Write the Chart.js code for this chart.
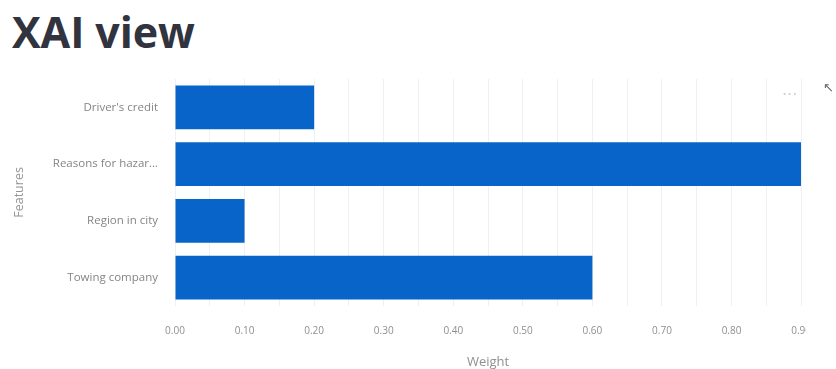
<!DOCTYPE html>
<html>
<head>
<meta charset="utf-8">
<script src="https://cdn.jsdelivr.net/npm/chart.js@4.4.1/dist/chart.umd.min.js"></script>
<style>
  body { margin: 0; background: #fff; width: 836px; height: 369px; overflow: hidden; position: relative; }
  h1 {
    position: absolute; left: 12px; top: 5px; margin: 0;
    font-family: "Open Sans", sans-serif; font-weight: 700; font-size: 43px;
    line-height: 54px; color: #31333f; letter-spacing: -0.1px;
  }
  #wrap { position: absolute; left: 0; top: 55px; width: 806px; height: 314px; overflow: hidden; }
  .menu { position: absolute; left: 782px; top: 85px; font: 16px "DejaVu Sans", sans-serif; color: #cfcfcf; }
  .expand { position: absolute; left: 823px; top: 80px; font: 13px "DejaVu Sans", sans-serif; color: #666; }
</style>
</head>
<body>
<h1>XAI view</h1>
<div id="wrap"><canvas id="xaiChart" width="830" height="314"></canvas></div>
<div class="menu">···</div>
<div class="expand">↖</div>
<script>
// Feature weights
const features = ["Driver's credit", 'Reasons for hazar…', 'Region in city', 'Towing company'];
const weights = [0.20, 0.90, 0.10, 0.60];
const xTickValues = [0, 0.1, 0.2, 0.3, 0.4, 0.5, 0.6, 0.7, 0.8, 0.9];

const ctx = document.getElementById('xaiChart').getContext('2d');

const xaiChart = new Chart(ctx, {
    type: 'bar',
    data: {
        labels: features,
        datasets: [
            {
                label: 'Weight',
                data: weights,
                backgroundColor: '#0864c8',
                borderWidth: 0,
                categoryPercentage: 1,
                barPercentage: 0.77
            }
        ]
    },
    options: {
        indexAxis: 'y',
        responsive: false,
        animation: false,
        layout: { padding: { top: 8, right: 28, bottom: 0, left: 0 } },
        scales: {
            x: {
                min: 0,
                max: 0.9,
                border: { display: false },
                grid: { color: '#f0f0f0', drawTicks: false },
                ticks: {
                    stepSize: 0.05,
                    autoSkip: false,
                    maxRotation: 0,
                    padding: 19,
                    color: '#8f8f8f',
                    font: { family: 'Open Sans', size: 10 },
                    callback: function (value) {
                        // only every 0.1 gets a label, grid stays at 0.05
                        const hit = xTickValues.find(v => Math.abs(v - value) < 1e-6);
                        return hit === undefined ? '' : hit.toFixed(2);
                    }
                },
                title: {
                    display: true,
                    text: 'Weight',
                    color: '#8f8f8f',
                    font: { family: 'Open Sans', size: 13 },
                    padding: { top: 0, bottom: -1 }
                },
                afterFit: scale => { scale.height = 63; }
            },
            y: {
                border: { display: false },
                grid: { display: false, drawTicks: false },
                ticks: {
                    padding: 17,
                    color: '#858585',
                    font: { family: 'Open Sans', size: 11.5 }
                },
                title: {
                    display: true,
                    text: 'Features',
                    color: '#959595',
                    font: { family: 'Open Sans', size: 12.5 },
                    padding: { top: 12, bottom: 0 }
                },
                afterFit: scale => { scale.width = 175; }
            }
        },
        plugins: {
            legend: { display: false },
            tooltip: { enabled: false }
        }
    }
});
</script>
</body>
</html>
